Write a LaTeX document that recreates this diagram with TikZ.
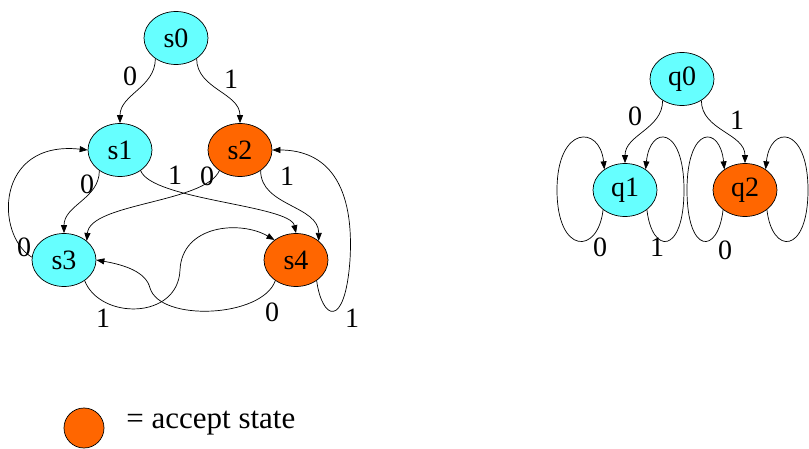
\documentclass[tikz,border=0pt]{standalone}
\usepackage{fontspec}
\setmainfont{Liberation Serif}
\usetikzlibrary{shapes.geometric}
\usetikzlibrary{arrows.meta}

\definecolor{plain}{RGB}{102,255,255}
\definecolor{acc}{RGB}{255,102,0}

\begin{document}
\begin{tikzpicture}[
        x=1pt, y=1pt,
        state/.style={draw,ellipse,fill=plain,minimum width=64pt,minimum height=53pt,inner sep=0pt,font=\fontsize{28}{30}\selectfont},
        accept/.style={state,fill=acc},
        lbl/.style={inner sep=0pt,font=\fontsize{28}{30}\selectfont},
        every path/.style={line width=0.7pt},
        >={Triangle[length=8pt,width=6pt]}
    ]
        \useasboundingbox (0,0) rectangle (809,-449);
        % first machine
        \node[state] (s0) at (176,-38) {s0};
        \node[state] (s1) at (120,-150) {s1};
        \node[accept] (s2) at (240,-150) {s2};
        \node[state] (s3) at (64,-260) {s3};
        \node[accept] (s4) at (296,-260) {s4};
        \draw[->] (s0.225) to[out=-90,in=90] (s1.north);
        \draw[->] (s0.315) to[out=-90,in=90] (s2.north);
        \draw[->] (s1.225) to[out=-90,in=90] (s3.north);
        \draw[->] (s1.315) .. controls (152,-200) and (290,-205) .. (s4.north);
        \draw[->] (s2.225) .. controls (205,-203) and (90,-203) .. (s3.40);
        \draw[->] (s2.315) to[out=-90,in=90] (s4.40);
        \draw[->] (s3.175) .. controls (-5,-235) and (-5,-140) .. (s1.west);
        \draw[->] (s3.315) .. controls (100,-320) and (178,-320) .. (180,-270)
            .. controls (182,-225) and (240,-220) .. (s4.137);
        \draw[->] (s4.225) .. controls (262,-318) and (160,-322) .. (150,-288)
            .. controls (146,-272) and (125,-265) .. (s3.east);
        \draw[->] (s4.315) .. controls (322,-320) and (345,-330) .. (350,-260)
            .. controls (355,-175) and (320,-150) .. (s2.east);
        \node[lbl] (l01) at (130,-76) {0};
        \node[lbl] (l02) at (231,-79) {1};
        \node[lbl] (l13) at (87,-184) {0};
        \node[lbl] (l14) at (175,-175) {1};
        \node[lbl] (l23) at (207,-176) {0};
        \node[lbl] (l24) at (287,-176) {1};
        \node[lbl] (l31) at (24,-247) {0};
        \node[lbl] (l34) at (103,-318) {1};
        \node[lbl] (l43) at (272,-312) {0};
        \node[lbl] (l42) at (352,-318) {1};
        % second machine
        \node[state] (q0) at (682,-79) {q0};
        \node[state] (q1) at (625,-190) {q1};
        \node[accept] (q2) at (745,-190) {q2};
        \draw[->] (q0.228) to[out=-90,in=90] (q1.north);
        \draw[->] (q0.312) to[out=-90,in=90] (q2.north);
        \draw[->] (q1.222) .. controls (598,-255) and (557,-255) .. (557,-190)
            .. controls (557,-125) and (600,-125) .. (q1.135);
        \draw[->] (q1.318) .. controls (652,-255) and (684,-255) .. (684,-190)
            .. controls (684,-125) and (650,-125) .. (q1.45);
        \draw[->] (q2.222) .. controls (718,-255) and (687,-255) .. (687,-190)
            .. controls (687,-125) and (720,-125) .. (q2.135);
        \draw[->] (q2.318) .. controls (772,-255) and (808,-255) .. (808,-190)
            .. controls (808,-125) and (770,-125) .. (q2.45);
        \node[lbl] (m01) at (635,-116) {0};
        \node[lbl] (m02) at (737,-120) {1};
        \node[lbl] (m11) at (600,-247) {0};
        \node[lbl] (m12) at (657,-247) {1};
        \node[lbl] (m21) at (725,-250) {0};
        \node[lbl] (m22) at (815,-248) {1};
        % legend
        \node[draw,circle,fill=acc,minimum size=40pt,inner sep=0pt] (key) at (84,-428) {};
        \node[anchor=west,inner sep=0pt,font=\fontsize{31}{33}\selectfont] (keytext) at (126,-423) {= accept state};
    \end{tikzpicture}
\end{document}
